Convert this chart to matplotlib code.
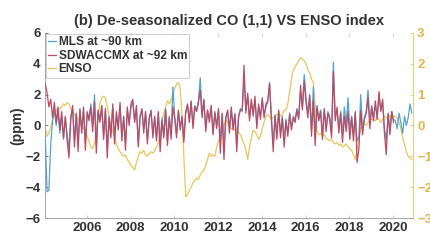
import numpy as np
import matplotlib
matplotlib.use("Agg")
import matplotlib.pyplot as plt

plt.rcParams['font.family'] = ['Liberation Sans', 'DejaVu Sans']
plt.rcParams['font.weight'] = 'bold'

# monthly values starting 2004.1, one row per year
mls = [
    -0.7, -4.3, -4.2, -1.2, 0.3, 1.0, 0.0, 0.9, -0.5, 0.6, -0.9, 0.5,
    -0.6, -1.5, 0.6, 1.1, -1.0, 0.7, -1.2, 1.1, -0.2, 1.0, -1.0, 0.8,
    0.5, 1.4, 0.0, 2.0, -1.2, 0.9, 0.4, 1.2, -0.6, 1.0, -1.5, 0.6,
    -0.5, 1.2, -0.8, 0.7, 0.0, 1.3, -0.7, 0.5, -1.1, 1.0, 0.2, 1.2,
    1.5, 0.3, 1.1, -1.1, 0.5, 1.0, -0.2, 0.8, -0.9, 0.5, 0.9, -0.5,
    0.5, -0.8, 0.8, -1.3, 0.5, -0.6, 1.1, -1.0, 0.6, -0.6, 2.5, 0.6,
    -0.5, 0.9, -0.1, 0.5, -0.8, 0.9, 1.3, 0.4, 1.5, 0.1, 1.3, 1.0,
    1.6, 3.1, 0.7, 1.6, -0.2, 1.0, 0.4, 1.2, -0.5, 0.8, 0.0, 1.0,
    -1.0, 0.7, -1.4, 0.5, 0.9, -0.2, 1.0, 0.0, 0.8, -1.2, 0.5, 1.1,
    0.9, 3.0, 1.0, 1.9, 0.5, 1.5, 0.8, 1.6, 0.1, 1.2, 0.6, 1.6,
    0.7, 1.2, 1.5, 2.8, 0.6, -1.2, 0.7, -0.6, 0.9, -0.5, 0.6, -1.0,
    0.4, -0.5, 0.7, -0.1, 0.6, 0.4, 1.1, 0.6, 2.2, 1.2, 3.3, 1.8,
    0.8, 1.9, -0.3, 2.5, -0.8, 1.3, 0.5, 1.0, -0.6, 1.0, -0.2, 0.9,
    0.6, -0.5, 4.1, 0.6, 1.0, -0.2, 0.9, -0.6, 1.2, 0.0, 1.8, -0.3,
    0.6, -0.6, 0.8, -1.0, -0.7, 2.0, -0.3, 0.5, 0.9, 2.3, 0.2, 1.3,
    0.5, 1.3, 0.6, 1.9, 1.0, 1.5, -0.2, -1.0, 0.7, -0.3, 0.9, 0.4,
    0.3, -0.2, 0.8, 0.2, -0.5, 0.6, 0.0, 0.5, 1.4, 0.8,
]

sdwaccmx = [
    2.7, 2.1, 1.2, 1.7, 0.5, 1.5, 0.2, 1.2, -0.3, 0.9, -0.8, 0.6,
    -1.0, -2.1, 0.4, 1.3, -1.4, 0.8, -1.7, 1.0, -0.5, 1.2, -1.6, 0.9,
    0.3, 1.2, -0.4, 1.5, -1.8, 1.0, 0.2, 1.3, -0.9, 1.1, -2.1, 0.5,
    -0.8, 1.4, -1.2, 0.9, -0.3, 1.5, -1.0, 0.6, -1.6, 1.2, 0.0, 1.4,
    1.7, 0.2, 1.3, -1.4, 0.6, 1.1, -0.5, 0.9, -1.2, 0.4, 1.0, -0.8,
    0.6, -1.0, 0.9, -1.7, 0.3, -0.8, 1.0, -1.3, 0.5, -0.9, 1.2, 0.4,
    -0.8, 1.0, -0.3, 0.6, -1.1, 0.8, 1.4, 0.2, 1.6, -0.2, 1.2, 0.9,
    1.5, 2.3, 0.5, 1.7, -0.4, 1.0, 0.2, 1.3, -0.6, 0.9, -0.2, 1.1,
    -1.8, 0.8, -2.2, 0.5, 1.0, -0.5, 1.2, -0.3, 0.7, -1.7, 0.6, 1.0,
    1.0, 3.9, 0.8, 2.1, 0.3, 1.7, 0.6, 1.9, -0.2, 1.4, 0.4, 1.8,
    0.5, 1.4, 1.6, 2.7, 0.4, -1.7, 0.6, -0.9, 1.0, -0.8, 0.5, -1.4,
    0.3, -0.7, 0.8, -0.3, 0.5, 0.2, 1.0, 0.4, 2.6, 1.0, 2.9, 1.5,
    0.5, 2.0, -0.7, 1.6, -1.3, 1.2, 0.3, 0.9, -0.9, 1.1, -0.4, 0.8,
    0.4, -0.8, 3.5, 0.3, 1.2, -0.5, 0.8, -1.1, 0.6, -0.4, 0.9, -0.9,
    0.5, -1.0, 0.9, -2.4, -1.5, 1.0, -0.6, 0.4, 0.8, 1.8, -0.2, 1.2,
    0.3, 1.6, 0.4, 2.2, 0.9, 1.7, -0.5, -1.9, 0.8, -0.6, 0.9, 0.2,
]

enso = [
    -0.1, -0.35, -0.25, -0.05, 0.2, 0.35, 0.5, 0.5, 0.55, 0.6, 0.7, 0.65,
    0.75, 0.7, 0.55, 0.45, 0.35, 0.3, 0.2, 0.1, 0.0, -0.1, -0.2, -0.35,
    -0.5, -0.7, -0.75, -0.6, -0.2, 0.3, 0.7, 0.9, 0.95, 0.9, 0.6, 0.3,
    0.0, -0.2, -0.35, -0.6, -0.75, -0.85, -0.95, -1.0, -0.95, -1.1, -1.2, -1.3,
    -1.35, -1.45, -1.2, -1.0, -0.85, -0.9, -0.8, -0.95, -1.0, -0.9, -0.85, -0.9,
    -0.8, -0.7, -0.55, -0.3, 0.1, 0.4, 0.6, 0.8, 0.7, 0.85, 1.0, 1.2,
    1.35, 1.4, 1.2, 0.3, -1.0, -2.3, -2.25, -2.1, -2.0, -1.85, -1.8, -1.7,
    -1.75, -1.6, -1.5, -1.45, -1.3, -1.1, -0.9, -1.0, -0.95, -1.0, -0.7, -0.5,
    -0.35, -0.2, 0.0, 0.2, 0.1, -0.05, -0.1, -0.1, -0.15, -0.1, -0.2, -0.3,
    -0.45, -0.6, -0.8, -1.1, -0.7, -0.4, -0.15, -0.2, -0.3, -0.45, -0.35, -0.1,
    0.1, 0.28, 0.35, 0.3, 0.2, 0.25, 0.3, 0.35, 0.4, 0.3, 0.35, 0.5,
    0.5, 0.7, 1.1, 1.5, 1.8, 1.9, 2.0, 2.1, 2.2, 2.15, 2.1, 2.0,
    1.8, 1.7, 1.5, 1.4, 0.6, -0.2, -0.3, -0.25, -0.35, -0.3, -0.4, -0.45,
    -0.5, -0.45, -0.55, -0.6, -0.55, -0.65, -0.6, -0.7, -0.65, -0.6, -0.7, -0.75,
    -0.8, -0.95, -1.1, -0.8, -0.4, -0.1, 0.0, 0.05, 0.0, 0.1, 0.15, 0.2,
    0.2, 0.15, 0.25, 0.2, 0.1, 0.2, 0.3, 0.25, 0.2, 0.3, 0.35, 0.3,
    0.3, 0.25, 0.1, -0.1, -0.4, -0.6, -0.85, -1.0, -1.05, -1.1,
]

start = 2004.1
t_mls = start + np.arange(len(mls)) / 12
t_sd = start + np.arange(len(sdwaccmx)) / 12
t_enso = start + np.arange(len(enso)) / 12

blue = '#55a3cf'
red = '#bd4a62'
yellow = '#e9c65a'
ticky = '#dfb64a'
grey = '#333333'

fig = plt.figure(figsize=(4.31, 2.42), dpi=100)
ax = fig.add_axes([0.104, 0.099, 0.854, 0.765])
ax2 = ax.twinx()

l1, = ax.plot(t_mls, mls, color=blue, lw=0.9, label='MLS at ~90 km', zorder=3)
l2, = ax.plot(t_sd, sdwaccmx, color=red, lw=0.9, label='SDWACCMX at ~92 km', zorder=3)
l3, = ax2.plot(t_enso, enso, color=yellow, lw=0.9, label='ENSO')

ax.set_zorder(ax2.get_zorder() + 1)
ax.patch.set_visible(False)

ax.set_xlim(2004.08, 2020.9)
ax.set_ylim(-6, 6)
ax2.set_ylim(-3, 3)
ax.set_xticks(np.arange(2006, 2021, 2))
ax.set_yticks(np.arange(-6, 7, 2))
ax2.set_yticks(np.arange(-3, 4, 1))

ax.tick_params(axis='both', direction='in', length=2, labelsize=9.5, colors=grey,
               top=True, width=0.5, pad=3)
ax.tick_params(axis='x', colors='#bbbbbb', labelcolor=grey)
ax2.tick_params(axis='y', direction='in', length=2, labelsize=9.5, colors=ticky,
                width=0.5, pad=3)
for lab in ax.get_xticklabels() + ax.get_yticklabels() + ax2.get_yticklabels():
    lab.set_fontweight('bold')

for s in ['left', 'bottom']:
    ax.spines[s].set_color('#999999')
    ax.spines[s].set_linewidth(0.6)
ax.spines['top'].set_visible(False)
ax.spines['right'].set_visible(False)
ax2.spines['right'].set_color(yellow)
ax2.spines['right'].set_linewidth(0.6)
for s in ['left', 'bottom', 'top']:
    ax2.spines[s].set_visible(False)

ax.set_ylabel('(ppm)', fontsize=10, fontweight='bold', color=grey, labelpad=1)
ax.set_title('(b) De-seasonalized CO (1,1) VS ENSO index', fontsize=10.5,
             fontweight='bold', color=grey, pad=6)

leg = ax.legend(handles=[l1, l2, l3], loc='upper left', fontsize=8.6,
                handlelength=0.6, handletextpad=0.25, borderpad=0.2,
                labelspacing=0.12, borderaxespad=0.1, fancybox=False,
                framealpha=1, edgecolor='#bbbbbb')
leg.get_frame().set_linewidth(0.5)
for txt in leg.get_texts():
    txt.set_fontweight('bold')
    txt.set_color(grey)

fig.savefig('out.png', dpi=100)
